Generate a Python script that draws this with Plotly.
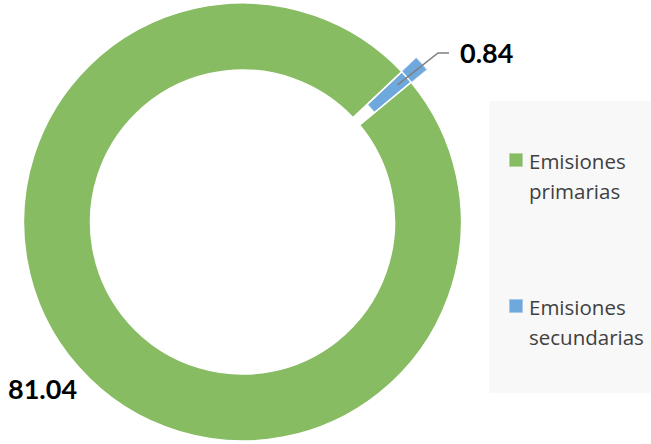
import math
import plotly.graph_objects as go

# ---- data ----
categories = ["Emisiones primarias", "Emisiones secundarias"]
values = [81.04, 0.84]
value_labels = ["81.04", "0.84"]
colors = ["#87BC63", "#6FA8DC"]
legend_lines = [["Emisiones", "primarias"], ["Emisiones", "secundarias"]]

W, H = 651, 444
CX, CY = 242.5, 222.0          # donut centre (px)
R = 219.0                      # outer radius (px)
HOLE = 0.694
ROT = 50.35                    # start angle of first slice (clockwise from 12 o'clock)
EXPLODE = 20.0                 # outward offset of exploded slice (px)

def px2paper(x, y):
    return x / W, 1 - y / H

transparent = "rgba(0,0,0,0)"
dom_x = [(CX - R) / W, (CX + R) / W]
dom_y = [(H - CY - R) / H, (H - CY + R) / H]

# Ring: green slice, blue slot left empty (it is drawn exploded below)
ring = go.Pie(
    labels=categories, values=values, sort=False, direction="clockwise",
    rotation=ROT, hole=HOLE, textinfo="none", hoverinfo="label+value",
    marker=dict(colors=[colors[0], transparent], line=dict(color="white", width=1.5)),
    domain=dict(x=dom_x, y=dom_y), showlegend=False,
)

total = sum(values)
blue_width = values[1] / total * 360
blue_mid = ROT + (values[0] + values[1] / 2) / total * 360

# Exploded slice on a polar sector sharing the pie's centre (1 radial unit = 1 px)
exploded = go.Barpolar(
    r=[R * (1 - HOLE)], base=[R * HOLE + EXPLODE], theta=[blue_mid], width=[blue_width],
    marker=dict(color=colors[1], line=dict(color="#A9C9EB", width=1)),
    name=categories[1], hoverinfo="name", showlegend=False,
)

fig = go.Figure([ring, exploded])

# polar sector around the exploded slice (screen angles, ccw from east)
std_mid = 90 - (blue_mid % 360)
sector = [std_mid - 12, std_mid + 12]
RP = 260.0  # polar radius in px (= radial range max)
s0, s1 = math.radians(sector[0]), math.radians(sector[1])
bx0 = min(0, math.cos(s0), math.cos(s1)); bx1 = max(0, math.cos(s0), math.cos(s1))
by0 = min(0, math.sin(s0), math.sin(s1)); by1 = max(0, math.sin(s0), math.sin(s1))
box_l = CX + RP * bx0; box_r = CX + RP * bx1
box_t = CY - RP * by1; box_b = CY - RP * by0
pol_x = [box_l / W, box_r / W]
pol_y = [1 - box_b / H, 1 - box_t / H]

a = math.radians(blue_mid)
r_lead = 207
sx, sy = CX + r_lead * math.sin(a), CY - r_lead * math.cos(a)
p0 = px2paper(sx, sy)
p1 = px2paper(438, 53)
p2 = px2paper(449, 53)

shapes = [
    dict(type="path", xref="paper", yref="paper",
         path=f"M {p0[0]},{p0[1]} L {p1[0]},{p1[1]} L {p2[0]},{p2[1]}",
         line=dict(color="#7F7F7F", width=1.5)),
]

# legend box
lx0, ly0 = px2paper(489, 393)
lx1, ly1 = px2paper(651, 101)
shapes.append(dict(type="rect", xref="paper", yref="paper", x0=lx0, y0=ly0, x1=lx1, y1=ly1,
                   fillcolor="#F8F8F8", line=dict(width=0), layer="below"))

annotations = []
leg_font = "'Open Sans', Lato, sans-serif"
num_font = "Lato, 'Open Sans', sans-serif"
item_y = [160, 306]
for i, lines in enumerate(legend_lines):
    y = item_y[i]
    sq0 = px2paper(509.5, y - 6.5)
    sq1 = px2paper(522.5, y + 6.5)
    shapes.append(dict(type="rect", xref="paper", yref="paper",
                       x0=sq0[0], y0=sq0[1], x1=sq1[0], y1=sq1[1],
                       fillcolor=colors[i], line=dict(color="#B8D4A6" if i == 0 else "#A9C9EB", width=1)))
    for j, t in enumerate(lines):
        tx, ty = px2paper(527, y + 1 + 30 * j)
        annotations.append(dict(text=t, x=tx, y=ty, xref="paper", yref="paper",
                                xanchor="left", yanchor="middle", showarrow=False,
                                font=dict(family=leg_font, size=20.5, color="#404040")))

# value labels
lab_pos = [(42, 388), (486, 52)]
for i, t in enumerate(value_labels):
    tx, ty = px2paper(*lab_pos[i])
    annotations.append(dict(text=f"<b>{t}</b>", x=tx, y=ty, xref="paper", yref="paper",
                            xanchor="center", yanchor="middle", showarrow=False,
                            font=dict(family=num_font, size=27, color="#000000")))

fig.update_layout(
    width=W, height=H, margin=dict(l=0, r=0, t=0, b=0),
    paper_bgcolor="white", plot_bgcolor="white",
    polar=dict(
        domain=dict(x=pol_x, y=pol_y), bgcolor=transparent, sector=sector,
        radialaxis=dict(range=[0, RP], visible=False),
        angularaxis=dict(rotation=90, direction="clockwise", visible=False),
    ),
    shapes=shapes, annotations=annotations, showlegend=False,
)

fig.write_html("out.html")
